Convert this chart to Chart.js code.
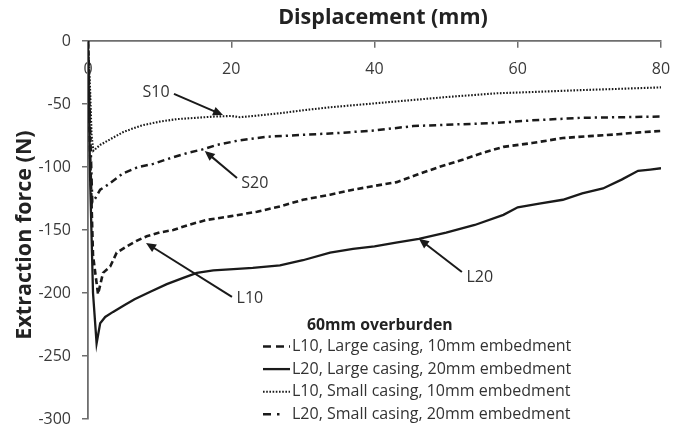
<!DOCTYPE html>
<html><head><meta charset="utf-8">
<script src="https://cdn.jsdelivr.net/npm/chart.js@4.4.1/dist/chart.umd.min.js"></script>
<style>html,body{margin:0;padding:0;background:#fff}canvas{display:block}</style>
</head><body>
<canvas id="c" width="673" height="429"></canvas>
<script>
// ---- data ----
const xTitle = 'Displacement (mm)';
const yTitle = 'Extraction force (N)';
const legendTitle = '60mm overburden';
const seriesLabels = [
  'L10, Large casing, 10mm embedment',
  'L20, Large casing, 20mm embedment',
  'L10, Small casing, 10mm embedment',
  'L20, Small casing, 20mm embedment'
];
const L10L_x = [0,0.3,0.7,1.4,2.1,3.1,4.0,5.4,7.0,8.2,10,11.9,14,16.6,20,23.6,27,30,33.8,37,40,43.1,46,49,52.4,55,58,62,66.3,70,74,77,80];
const L10L_y = [0,-90,-170,-201,-184,-179,-168,-163,-158,-155,-152,-150,-146,-142,-139,-135.5,-131,-126,-122,-118,-115,-112,-106,-100,-94,-89,-84,-81,-77,-75.5,-74,-72.5,-71.4];
const L20L_x = [0,0.3,0.7,1.2,1.7,2.4,3.5,5,6.5,8.7,11,13.3,15.2,17.5,20.3,23,26.8,30,33.8,37,40,43,46.2,50,54,58,60,63,66.3,69,71.9,74.5,76.8,78.5,80];
const L20L_y = [0,-110,-200,-240,-224,-219,-215,-210,-205,-199,-193,-188,-184,-182,-181,-180,-178,-174,-168,-165,-163,-160,-157,-152,-146,-138,-132,-129,-126,-121,-117,-110,-103,-102,-101];
const S10_x = [0,0.3,0.5,0.75,1.7,3.1,5,7.5,10,12.4,15,17.5,20,21.2,24,27.3,30,33.8,37,40,45.4,50,57.1,62,68.7,74,80];
const S10_y = [0,-40,-75,-87,-82.5,-78,-72,-67,-64,-62,-61,-60,-59.5,-60.5,-59,-57,-55,-52.6,-51,-49.5,-46.8,-44.5,-41.5,-40.5,-39,-38,-36.8];
const S20_x = [0,0.3,0.6,1,1.7,2.8,4.9,7,9.1,11.5,13.8,16,18,21,25,30,35,40,45.4,50,57.1,62,68.7,74,80];
const S20_y = [0,-70,-128,-125,-118,-114,-105,-100,-97.5,-93,-89,-86,-82.5,-79,-76,-74.5,-73,-71,-67.5,-66.5,-65,-63,-61,-60.5,-60];
const xTicks = [0,20,40,60,80];
const yTicks = [0,-50,-100,-150,-200,-250,-300];
// annotation labels and arrows, in data units
const notes = [
  {text:'S10', lx:9.5,  ly:-40.5, ax:12.0, ay:-42,   tx:18.85, ty:-58.7},
  {text:'S20', lx:23.3, ly:-112.7, ax:20.8, ay:-108.7, tx:16.3, ty:-87.3},
  {text:'L10', lx:22.6, ly:-204,  ax:20.1, ay:-203,  tx:8.1,  ty:-160.3},
  {text:'L20', lx:54.7, ly:-188,  ax:52.2, ay:-183.3, tx:46.2, ty:-157}
];

const zip = (xs, ys) => xs.map((x, i) => ({x, y: ys[i]}));
const FONT = "'Open Sans', sans-serif";
const INK = '#1a1a1a';

const styles = [
  {dash:[6,3.5], width:2.6, legendDash:[8,5]},
  {dash:[], width:2.3, legendDash:[]},
  {dash:[1.6,1.6], width:2.1, legendDash:[1.6,1.6]},
  {dash:[7,4,2.2,4], width:2.5, legendDash:[8,6,2.5,100]}
];
const seriesData = [zip(L10L_x,L10L_y), zip(L20L_x,L20L_y), zip(S10_x,S10_y), zip(S20_x,S20_y)];

const datasets = seriesData.map((d, i) => ({
  label: seriesLabels[i],
  data: d,
  borderColor: INK,
  borderWidth: styles[i].width,
  borderDash: styles[i].dash,
  pointRadius: 0,
  tension: 0,
  fill: false,
  legendDash: styles[i].legendDash
}));

const overlay = {
  id: 'overlay',
  afterDraw(chart) {
    const ctx = chart.ctx, xs = chart.scales.x, ys = chart.scales.y;
    ctx.save();
    // axis titles
    ctx.fillStyle = '#222';
    ctx.font = "bold 21.5px " + FONT;
    ctx.textAlign = 'center'; ctx.textBaseline = 'middle';
    ctx.fillText(xTitle, 383, 18);
    ctx.save();
    ctx.translate(25, 235);
    ctx.rotate(-Math.PI/2);
    ctx.fillText(yTitle, 0, 0);
    ctx.restore();
    // annotations
    ctx.font = "16px " + FONT;
    ctx.fillStyle = '#333';
    ctx.strokeStyle = INK;
    notes.forEach(n => {
      ctx.fillText(n.text, xs.getPixelForValue(n.lx), ys.getPixelForValue(n.ly));
      const x1 = xs.getPixelForValue(n.ax), y1 = ys.getPixelForValue(n.ay);
      const x2 = xs.getPixelForValue(n.tx), y2 = ys.getPixelForValue(n.ty);
      const ang = Math.atan2(y2 - y1, x2 - x1);
      const hl = 10, hw = 4.5;
      ctx.setLineDash([]);
      ctx.lineWidth = 2;
      ctx.beginPath();
      ctx.moveTo(x1, y1);
      ctx.lineTo(x2 - Math.cos(ang)*hl*0.8, y2 - Math.sin(ang)*hl*0.8);
      ctx.stroke();
      ctx.beginPath();
      ctx.moveTo(x2, y2);
      ctx.lineTo(x2 - Math.cos(ang)*hl - Math.sin(ang)*hw, y2 - Math.sin(ang)*hl + Math.cos(ang)*hw);
      ctx.lineTo(x2 - Math.cos(ang)*hl + Math.sin(ang)*hw, y2 - Math.sin(ang)*hl - Math.cos(ang)*hw);
      ctx.closePath();
      ctx.fillStyle = INK;
      ctx.fill();
      ctx.fillStyle = '#333';
    });
    // legend
    ctx.font = "bold 15.8px " + FONT;
    ctx.fillStyle = '#222';
    ctx.textAlign = 'left';
    ctx.fillText(legendTitle, 307, 325);
    ctx.font = "16px " + FONT;
    chart.data.datasets.forEach((ds, i) => {
      const y = 346.5 + i * 22.6;
      ctx.strokeStyle = INK;
      ctx.lineWidth = ds.borderWidth;
      ctx.setLineDash(ds.legendDash);
      ctx.beginPath();
      ctx.moveTo(263, y); ctx.lineTo(290, y);
      ctx.stroke();
      ctx.setLineDash([]);
      ctx.fillStyle = '#333';
      ctx.fillText(ds.label, 292, y);
    });
    ctx.restore();
  }
};

new Chart(document.getElementById('c'), {
  type: 'line',
  data: { datasets },
  options: {
    responsive: false,
    animation: false,
    layout: { padding: { left: 0, top: 41, right: 12, bottom: 10 } },
    plugins: { legend: { display: false }, tooltip: { enabled: false }, title: { display: false } },
    scales: {
      x: {
        type: 'linear',
        position: { y: 0 },
        min: 0, max: 80,
        afterBuildTicks: s => { s.ticks = xTicks.map(v => ({value: v})); },
        afterFit: s => { s.paddingLeft = 0; s.paddingRight = 0; s.paddingTop = 0; s.paddingBottom = 0; },
        grid: { drawOnChartArea: false, drawTicks: true, tickLength: 6, color: '#6e6e6e', lineWidth: 1.5 },
        border: { color: '#6e6e6e', width: 1.8 },
        ticks: { font: { family: FONT, size: 16 }, color: '#3a3a3a', padding: 13, maxRotation: 0 }
      },
      y: {
        type: 'linear',
        position: 'left',
        min: -300, max: 0,
        afterBuildTicks: s => { s.ticks = yTicks.map(v => ({value: v})); },
        afterFit: s => { s.width = 88; s.paddingLeft = 0; s.paddingRight = 0; s.paddingTop = 0; s.paddingBottom = 0; },
        grid: { drawOnChartArea: false, drawTicks: true, tickLength: 6, color: '#6e6e6e', lineWidth: 1.5 },
        border: { color: '#6e6e6e', width: 1.8 },
        ticks: { font: { family: FONT, size: 16 }, color: '#3a3a3a', padding: 11 }
      }
    }
  },
  plugins: [overlay]
});
</script>
</body></html>
